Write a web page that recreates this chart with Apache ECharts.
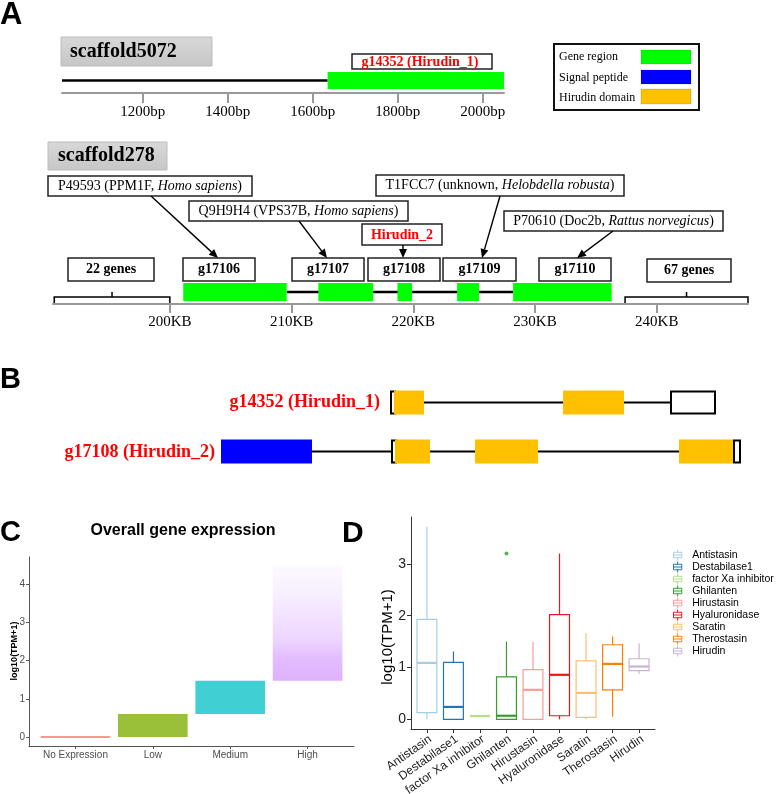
<!DOCTYPE html>
<html><head><meta charset="utf-8">
<script src="https://cdn.jsdelivr.net/npm/echarts@6/dist/echarts.min.js"></script>
<style>html,body{margin:0;padding:0;background:#fff}#c{width:780px;height:794px}</style>
</head><body><div id="c"></div>
<script>
// ---------- Panel A: scaffold5072 (bp) ----------
const s5072Range = [1010, 2050];
const s5072Ticks = [1200, 1400, 1600, 1800, 2000];
const s5072Backbone = [[1010, 1635]];
const s5072Genes = [[1635, 2050]];
const s5072GeneLabel = 'g14352 (Hirudin_1)';
// ---------- Panel A: scaffold278 (KB) ----------
const s278Range = [190.4, 247.5];
const s278Ticks = [200, 210, 220, 230, 240];
const s278GeneNames = ['g17106', 'g17107', 'g17108', 'g17109', 'g17110'];
const s278GeneStart = [201.1, 212.2, 218.7, 223.6, 228.2];
const s278GeneEnd = [209.6, 216.7, 219.9, 225.4, 236.3];
const s278Backbone = [[209.6, 228.2]];
const s278Flanks = [[190.5, 200.0], [237.4, 247.5]];
const s278FlankLabels = ['22 genes', '67 genes'];
// ---------- Panel B: gene structures (relative position) ----------
const bGenes = ['g14352 (Hirudin_1)', 'g17108 (Hirudin_2)'];
const bRange = [0, 521];
const bLinks = [[[204, 343], [404, 450]], [[92, 171], [210, 255], [318, 459]]];
const bBoxes = [[[170, 176], [450, 496]], [[171, 177], [513, 521]]];
const bSignal = [[], [[1, 92]]];
const bDomains = [[[174, 204], [343, 404]], [[175, 210], [255, 318], [459, 513]]];
// ---------- Panel C ----------
const cCategories = ['No Expression', 'Low', 'Medium', 'High'];
const cMin = [0, 0, 0.6, 1.47];
const cMax = [0, 0.6, 1.47, 4.48];
const cTicks = [0, 1, 2, 3, 4];
// ---------- Panel D ----------
const dCategories = ['Antistasin', 'Destabilase1', 'factor Xa inhibitor', 'Ghilanten', 'Hirustasin', 'Hyaluronidase', 'Saratin', 'Therostasin', 'Hirudin'];
const dMin    = [0,    0,    0.064, 0,    0,    0,    0,    0.05, 0.88];
const dQ1     = [0.13, 0,    0.064, 0,    0,    0.07, 0.04, 0.57, 0.94];
const dMedian = [1.09, 0.24, 0.064, 0.07, 0.57, 0.86, 0.51, 1.07, 1.02];
const dQ3     = [1.93, 1.10, 0.064, 0.82, 0.96, 2.02, 1.13, 1.44, 1.17];
const dMax    = [3.72, 1.31, 0.064, 1.50, 1.50, 3.20, 1.66, 1.60, 1.47];
const dOutlierCat = ['Ghilanten'];
const dOutlierVal = [3.2];
const dTicks = [0, 1, 2, 3];

// ---------- styles ----------
const SERIF = '"Liberation Serif", "Times New Roman", serif';
const SANS = '"Liberation Sans", Arial, sans-serif';
const dColors = ['#A6CEE3', '#1F78B4', '#B2DF8A', '#33A02C', '#FB9A99', '#E31A1C', '#FDBF6F', '#FF7F00', '#CAB2D6'];
const cFills = [
  '#F8766D',
  'rgba(124,174,0,0.78)',
  'rgba(0,191,196,0.75)',
  new echarts.graphic.LinearGradient(0, 0, 0, 1, [
    {offset: 0, color: 'rgba(199,124,255,0.05)'},
    {offset: 0.2, color: 'rgba(199,124,255,0.10)'},
    {offset: 0.4, color: 'rgba(199,124,255,0.20)'},
    {offset: 0.65, color: 'rgba(199,124,255,0.32)'},
    {offset: 0.8, color: 'rgba(199,124,255,0.50)'},
    {offset: 1, color: 'rgba(199,124,255,0.60)'}
  ])
];

// ---------- render helpers ----------
function blockRender(fill) {
  return function (params, api) {
    const cs = params.coordSys;
    const a = api.coord([api.value(0), 0]), b = api.coord([api.value(1), 0]);
    return {type: 'rect', shape: {x: a[0], y: cs.y, width: b[0] - a[0], height: cs.height}, style: {fill: fill}};
  };
}
function backboneRender(lw) {
  return function (params, api) {
    const cs = params.coordSys;
    const a = api.coord([api.value(0), 0]), b = api.coord([api.value(1), 0]);
    const y = cs.y + cs.height / 2;
    return {type: 'line', shape: {x1: a[0], y1: y, x2: b[0], y2: y}, style: {stroke: '#000', lineWidth: lw}};
  };
}
function braceRender(params, api) {
  const cs = params.coordSys;
  const a = api.coord([api.value(0), 0])[0], b = api.coord([api.value(1), 0])[0];
  const base = cs.y + cs.height - 4, m = (a + b) / 2;
  return {type: 'polyline', shape: {points: [[a, base + 6], [a, base], [m, base], [m, base - 5], [m, base], [b, base], [b, base + 6]]},
    style: {stroke: '#000', lineWidth: 1.5, fill: null}};
}
function bRender(kind) {
  return function (params, api) {
    const row = api.value(0);
    const a = api.coord([api.value(1), row]), b = api.coord([api.value(2), row]);
    const y = a[1];
    if (kind === 'link') return {type: 'line', shape: {x1: a[0], y1: y, x2: b[0], y2: y}, style: {stroke: '#000', lineWidth: 2}};
    if (kind === 'box') return {type: 'rect', shape: {x: a[0] + 1, y: y - 11, width: b[0] - a[0] - 2, height: 22}, style: {fill: '#fff', stroke: '#000', lineWidth: 2}};
    return {type: 'rect', shape: {x: a[0], y: y - 12, width: b[0] - a[0], height: 24}, style: {fill: kind === 'signal' ? '#0000FF' : '#FFC000'}};
  };
}
function cRender(params, api) {
  const i = api.value(0), lo = api.value(1), hi = api.value(2);
  const a = api.coord([i - 0.45, lo]), b = api.coord([i + 0.45, hi]);
  const fill = cFills[params.dataIndex];
  if (lo === hi) return {type: 'line', shape: {x1: a[0], y1: a[1], x2: b[0], y2: a[1]}, style: {stroke: fill, lineWidth: 1.5}};
  return {type: 'rect', shape: {x: a[0], y: b[1], width: b[0] - a[0], height: a[1] - b[1]}, style: {fill: fill}};
}
function dRender(color) {
  return function (params, api) {
    const x = api.value(0);
    const cx = api.coord([x, 0])[0];
    const hw = api.coord([x + 0.375, 0])[0] - cx;
    const y = k => api.coord([x, api.value(k)])[1];
    const yMin = y(1), yQ1 = y(2), yMed = y(3), yQ3 = y(4), yMax = y(5);
    return {type: 'group', children: [
      {type: 'line', shape: {x1: cx, y1: yMax, x2: cx, y2: yQ3}, style: {stroke: color, lineWidth: 1.2}},
      {type: 'line', shape: {x1: cx, y1: yQ1, x2: cx, y2: yMin}, style: {stroke: color, lineWidth: 1.2}},
      {type: 'rect', shape: {x: cx - hw, y: yQ3, width: 2 * hw, height: yQ1 - yQ3}, style: {fill: '#fff', stroke: color, lineWidth: 1.2}},
      {type: 'line', shape: {x1: cx - hw, y1: yMed, x2: cx + hw, y2: yMed}, style: {stroke: color, lineWidth: 2.2}}
    ]};
  };
}

// ---------- graphic helpers ----------
function rectG(x, y, w, h, opt) {
  opt = opt || {};
  return {type: 'rect', shape: {x: x, y: y, width: w, height: h},
    style: {fill: opt.fill || '#fff', stroke: opt.stroke === undefined ? '#222' : opt.stroke, lineWidth: opt.lw || 1.5}, z: 10};
}
function textG(x, y, text, font, fill, align, rich) {
  const st = {x: x, y: y, text: text, font: font, fill: fill || '#000', align: align || 'center', verticalAlign: 'middle'};
  if (rich) st.rich = rich;
  return {type: 'text', style: st, z: 11};
}
function arrowG(x1, y1, x2, y2) {
  const ang = Math.atan2(y2 - y1, x2 - x1), L = 9, W = 4;
  const bx = x2 - L * Math.cos(ang), by = y2 - L * Math.sin(ang);
  const px = -Math.sin(ang) * W, py = Math.cos(ang) * W;
  return [
    {type: 'line', shape: {x1: x1, y1: y1, x2: bx, y2: by}, style: {stroke: '#000', lineWidth: 1.4}, z: 12},
    {type: 'polygon', shape: {points: [[x2, y2], [bx + px, by + py], [bx - px, by - py]]}, style: {fill: '#000'}, z: 12}
  ];
}
const richSerif = {
  n: {fontFamily: SERIF, fontSize: 14, fill: '#000'},
  i: {fontFamily: SERIF, fontSize: 14, fontStyle: 'italic', fill: '#000'}
};
const grayFill = new echarts.graphic.LinearGradient(0, 0, 0, 1, [{offset: 0, color: '#d8d8d8'}, {offset: 1, color: '#c6c6c6'}]);

const graphics = [].concat(
  [
    textG(0, 15, 'A', 'bold 31px ' + SANS, '#000', 'left'),
    textG(0, 380, 'B', 'bold 29px ' + SANS, '#000', 'left'),
    textG(0, 533, 'C', 'bold 29px ' + SANS, '#000', 'left'),
    textG(342, 534, 'D', 'bold 30px ' + SANS, '#000', 'left'),
    // scaffold titles
    rectG(61, 37, 151, 29, {fill: grayFill, stroke: '#bdbdbd', lw: 1}),
    textG(70, 52, 'scaffold5072', 'bold 20px ' + SERIF, '#000', 'left'),
    rectG(48, 142, 119, 28, {fill: grayFill, stroke: '#bdbdbd', lw: 1}),
    textG(58, 156, 'scaffold278', 'bold 20px ' + SERIF, '#000', 'left'),
    // gene label on scaffold5072
    rectG(352, 54, 140, 15),
    textG(420, 62, s5072GeneLabel, 'bold 14px ' + SERIF, '#FF0000'),
    // legend A
    rectG(554, 44, 145, 66, {stroke: '#111', lw: 2}),
    textG(559, 57, 'Gene region', '12px ' + SERIF, '#000', 'left'),
    textG(559, 78, 'Signal peptide', '12px ' + SERIF, '#000', 'left'),
    textG(559, 98, 'Hirudin domain', '12px ' + SERIF, '#000', 'left'),
    rectG(641, 50, 50, 14, {fill: '#00FF00', stroke: 'rgba(0,0,0,0.12)', lw: 1}),
    rectG(641, 70, 50, 14, {fill: '#0000FF', stroke: 'rgba(0,0,0,0.12)', lw: 1}),
    rectG(641, 89, 50, 15, {fill: '#FFC000', stroke: 'rgba(0,0,0,0.12)', lw: 1}),
    // annotation boxes scaffold278
    rectG(48, 176, 204, 20),
    textG(150, 186, '{n|P49593 (PPM1F, }{i|Homo sapiens}{n|)}', '14px ' + SERIF, '#000', 'center', richSerif),
    rectG(189, 201, 219, 20),
    textG(298.5, 211, '{n|Q9H9H4 (VPS37B, }{i|Homo sapiens}{n|)}', '14px ' + SERIF, '#000', 'center', richSerif),
    rectG(362, 224, 80, 21),
    textG(402, 235, 'Hirudin_2', 'bold 14px ' + SERIF, '#FF0000'),
    rectG(376, 175, 248, 21),
    textG(500, 185.5, '{n|T1FCC7 (unknown, }{i|Helobdella robusta}{n|)}', '14px ' + SERIF, '#000', 'center', richSerif),
    rectG(504, 211, 219, 20),
    textG(613.5, 221, '{n|P70610 (Doc2b, }{i|Rattus norvegicus}{n|)}', '14px ' + SERIF, '#000', 'center', richSerif),
    // gene boxes
    rectG(68, 258, 86, 23), textG(111, 269, s278FlankLabels[0], 'bold 14px ' + SERIF),
    rectG(183, 258, 72, 23), textG(219, 269, s278GeneNames[0], 'bold 14px ' + SERIF),
    rectG(292, 258, 72, 23), textG(328, 269, s278GeneNames[1], 'bold 14px ' + SERIF),
    rectG(368, 258, 72, 23), textG(404, 269, s278GeneNames[2], 'bold 14px ' + SERIF),
    rectG(443, 258, 73, 23), textG(479.5, 269, s278GeneNames[3], 'bold 14px ' + SERIF),
    rectG(539, 258, 72, 23), textG(575, 269, s278GeneNames[4], 'bold 14px ' + SERIF),
    rectG(647, 259, 84, 23), textG(689, 270, s278FlankLabels[1], 'bold 14px ' + SERIF),
    // panel B labels
    textG(380, 402, bGenes[0], 'bold 18px ' + SERIF, '#FF0000', 'right'),
    textG(215, 452, bGenes[1], 'bold 18px ' + SERIF, '#FF0000', 'right'),
    // panel C title & y title
    textG(183, 531, 'Overall gene expression', 'bold 16px ' + SANS),
    {type: 'text', x: 15, y: 651, rotation: Math.PI / 2, style: {x: 0, y: 0, text: 'log10(TPM+1)', font: 'bold 9px ' + SANS, fill: '#000', align: 'center', verticalAlign: 'middle'}, z: 11},
    // panel D y title
    {type: 'text', x: 388, y: 637, rotation: Math.PI / 2, style: {x: 0, y: 0, text: 'log10(TPM+1)', font: '15px ' + SANS, fill: '#000', align: 'center', verticalAlign: 'middle'}, z: 11}
  ],
  arrowG(151, 196, 218, 258),
  arrowG(299, 221, 327, 258),
  arrowG(403, 245, 403, 258),
  arrowG(500, 196, 482, 258),
  arrowG(613, 231, 577, 258)
);

// ---------- series ----------
const series = [
  {type: 'custom', xAxisIndex: 0, yAxisIndex: 0, renderItem: backboneRender(2.5), data: s5072Backbone, silent: true},
  {type: 'custom', xAxisIndex: 0, yAxisIndex: 0, renderItem: blockRender('#00FF00'), data: s5072Genes, silent: true},
  {type: 'custom', xAxisIndex: 1, yAxisIndex: 1, renderItem: backboneRender(2.5), data: s278Backbone, silent: true},
  {type: 'custom', xAxisIndex: 1, yAxisIndex: 1, renderItem: blockRender('#00FF00'), data: s278GeneStart.map((s, i) => [s, s278GeneEnd[i]]), silent: true},
  {type: 'custom', xAxisIndex: 1, yAxisIndex: 1, renderItem: braceRender, data: s278Flanks, silent: true}
];
function rowsData(arr) { const out = []; arr.forEach((segs, r) => segs.forEach(s => out.push([r, s[0], s[1]]))); return out; }
series.push(
  {type: 'custom', xAxisIndex: 2, yAxisIndex: 2, renderItem: bRender('link'), data: rowsData(bLinks), silent: true, z: 1},
  {type: 'custom', xAxisIndex: 2, yAxisIndex: 2, renderItem: bRender('box'), data: rowsData(bBoxes), silent: true, z: 2},
  {type: 'custom', xAxisIndex: 2, yAxisIndex: 2, renderItem: bRender('signal'), data: rowsData(bSignal), silent: true, z: 3},
  {type: 'custom', xAxisIndex: 2, yAxisIndex: 2, renderItem: bRender('domain'), data: rowsData(bDomains), silent: true, z: 3}
);
series.push({type: 'custom', xAxisIndex: 3, yAxisIndex: 3, renderItem: cRender,
  data: cCategories.map((c, i) => [i + 1, cMin[i], cMax[i]]), silent: true});
dCategories.forEach((name, i) => {
  series.push({type: 'custom', name: name, xAxisIndex: 4, yAxisIndex: 4, renderItem: dRender(dColors[i]),
    itemStyle: {color: dColors[i]},
    data: [[i + 1, dMin[i], dQ1[i], dMedian[i], dQ3[i], dMax[i]]], silent: true});
});
series.push({type: 'scatter', name: 'outliers', xAxisIndex: 4, yAxisIndex: 4, symbolSize: 4,
  itemStyle: {color: '#33A02C'}, silent: true,
  data: dOutlierCat.map((c, i) => [dCategories.indexOf(c) + 1, dOutlierVal[i]])});

const hidden = {show: false};
const option = {
  animation: false,
  backgroundColor: '#fff',
  grid: [
    {left: 62, top: 72, width: 442, height: 17, outerBoundsMode: 'none', containLabel: false},
    {left: 53, top: 283, width: 695, height: 18, outerBoundsMode: 'none', containLabel: false},
    {left: 220, top: 378, width: 521, height: 98, outerBoundsMode: 'none', containLabel: false},
    {left: 29, top: 557, width: 325, height: 189, outerBoundsMode: 'none', containLabel: false},
    {left: 411, top: 517, width: 244, height: 212, outerBoundsMode: 'none', containLabel: false}
  ],
  xAxis: [
    {gridIndex: 0, type: 'value', min: s5072Range[0], max: s5072Range[1], offset: 4,
      axisLine: {show: true, onZero: false, lineStyle: {color: '#999', width: 2}},
      axisTick: {show: true, customValues: s5072Ticks, length: 10, lineStyle: {color: '#999', width: 2}},
      axisLabel: {customValues: s5072Ticks, formatter: v => v + 'bp', fontFamily: SERIF, fontSize: 15, color: '#000', margin: 12},
      splitLine: hidden},
    {gridIndex: 1, type: 'value', min: s278Range[0], max: s278Range[1], offset: 3,
      axisLine: {show: true, onZero: false, lineStyle: {color: '#999', width: 2}},
      axisTick: {show: true, customValues: s278Ticks, length: 9, lineStyle: {color: '#999', width: 2}},
      axisLabel: {customValues: s278Ticks, formatter: v => v + 'KB', fontFamily: SERIF, fontSize: 15, color: '#000', margin: 11},
      splitLine: hidden},
    {gridIndex: 2, type: 'value', min: bRange[0], max: bRange[1], show: false},
    {gridIndex: 3, type: 'value', min: 0.4, max: 4.6,
      axisLine: {show: true, onZero: false, lineStyle: {color: '#555', width: 1}},
      axisTick: {show: true, customValues: [1, 2, 3, 4], length: 3, lineStyle: {color: '#555'}},
      axisLabel: {customValues: [1, 2, 3, 4], formatter: v => cCategories[Math.round(v) - 1], fontFamily: SANS, fontSize: 10, color: '#4D4D4D', margin: 4},
      splitLine: hidden},
    {gridIndex: 4, type: 'value', min: 0.4, max: 9.6,
      axisLine: {show: true, onZero: false, lineStyle: {color: '#333', width: 1}},
      axisTick: {show: true, customValues: [1, 2, 3, 4, 5, 6, 7, 8, 9], length: 4, lineStyle: {color: '#333'}},
      axisLabel: {customValues: [1, 2, 3, 4, 5, 6, 7, 8, 9], formatter: v => dCategories[Math.round(v) - 1], rotate: 35,
        fontFamily: SANS, fontSize: 12, color: '#222', margin: 4, verticalAlign: 'top', hideOverlap: false},
      splitLine: hidden}
  ],
  yAxis: [
    {gridIndex: 0, type: 'value', min: 0, max: 1, show: false},
    {gridIndex: 1, type: 'value', min: 0, max: 1, show: false},
    {gridIndex: 2, type: 'category', data: bGenes, inverse: true, show: false},
    {gridIndex: 3, type: 'value', min: -0.235, max: 4.706,
      axisLine: {show: true, onZero: false, lineStyle: {color: '#555', width: 1}},
      axisTick: {show: true, customValues: cTicks, length: 3, lineStyle: {color: '#555'}},
      axisLabel: {customValues: cTicks, fontFamily: SANS, fontSize: 10, color: '#4D4D4D', margin: 4},
      splitLine: hidden},
    {gridIndex: 4, type: 'value', min: -0.186, max: 3.906,
      axisLine: {show: true, onZero: false, lineStyle: {color: '#333', width: 1}},
      axisTick: {show: true, customValues: dTicks, length: 4, lineStyle: {color: '#333'}},
      axisLabel: {customValues: dTicks, fontFamily: SANS, fontSize: 14, color: '#222', margin: 5},
      splitLine: hidden}
  ],
  legend: {
    orient: 'vertical', left: 673, top: 549, padding: 0, itemWidth: 9, itemHeight: 11, itemGap: 0,
    selectedMode: false,
    textStyle: {fontFamily: SANS, fontSize: 10.5, lineHeight: 11, color: '#000', padding: [0, 0, 0, 5]},
    data: dCategories.map((n, i) => ({name: n,
      icon: 'path://M4.5,0L4.5,3M0,3L9,3L9,9L0,9ZM0,6L9,6M4.5,9L4.5,12',
      itemStyle: {color: '#fff', borderColor: dColors[i], borderWidth: 1}}))
  },
  graphic: graphics,
  series: series
};
const chart = echarts.init(document.getElementById('c'), null, {renderer: 'canvas'});
chart.setOption(option);
</script>
</body></html>
